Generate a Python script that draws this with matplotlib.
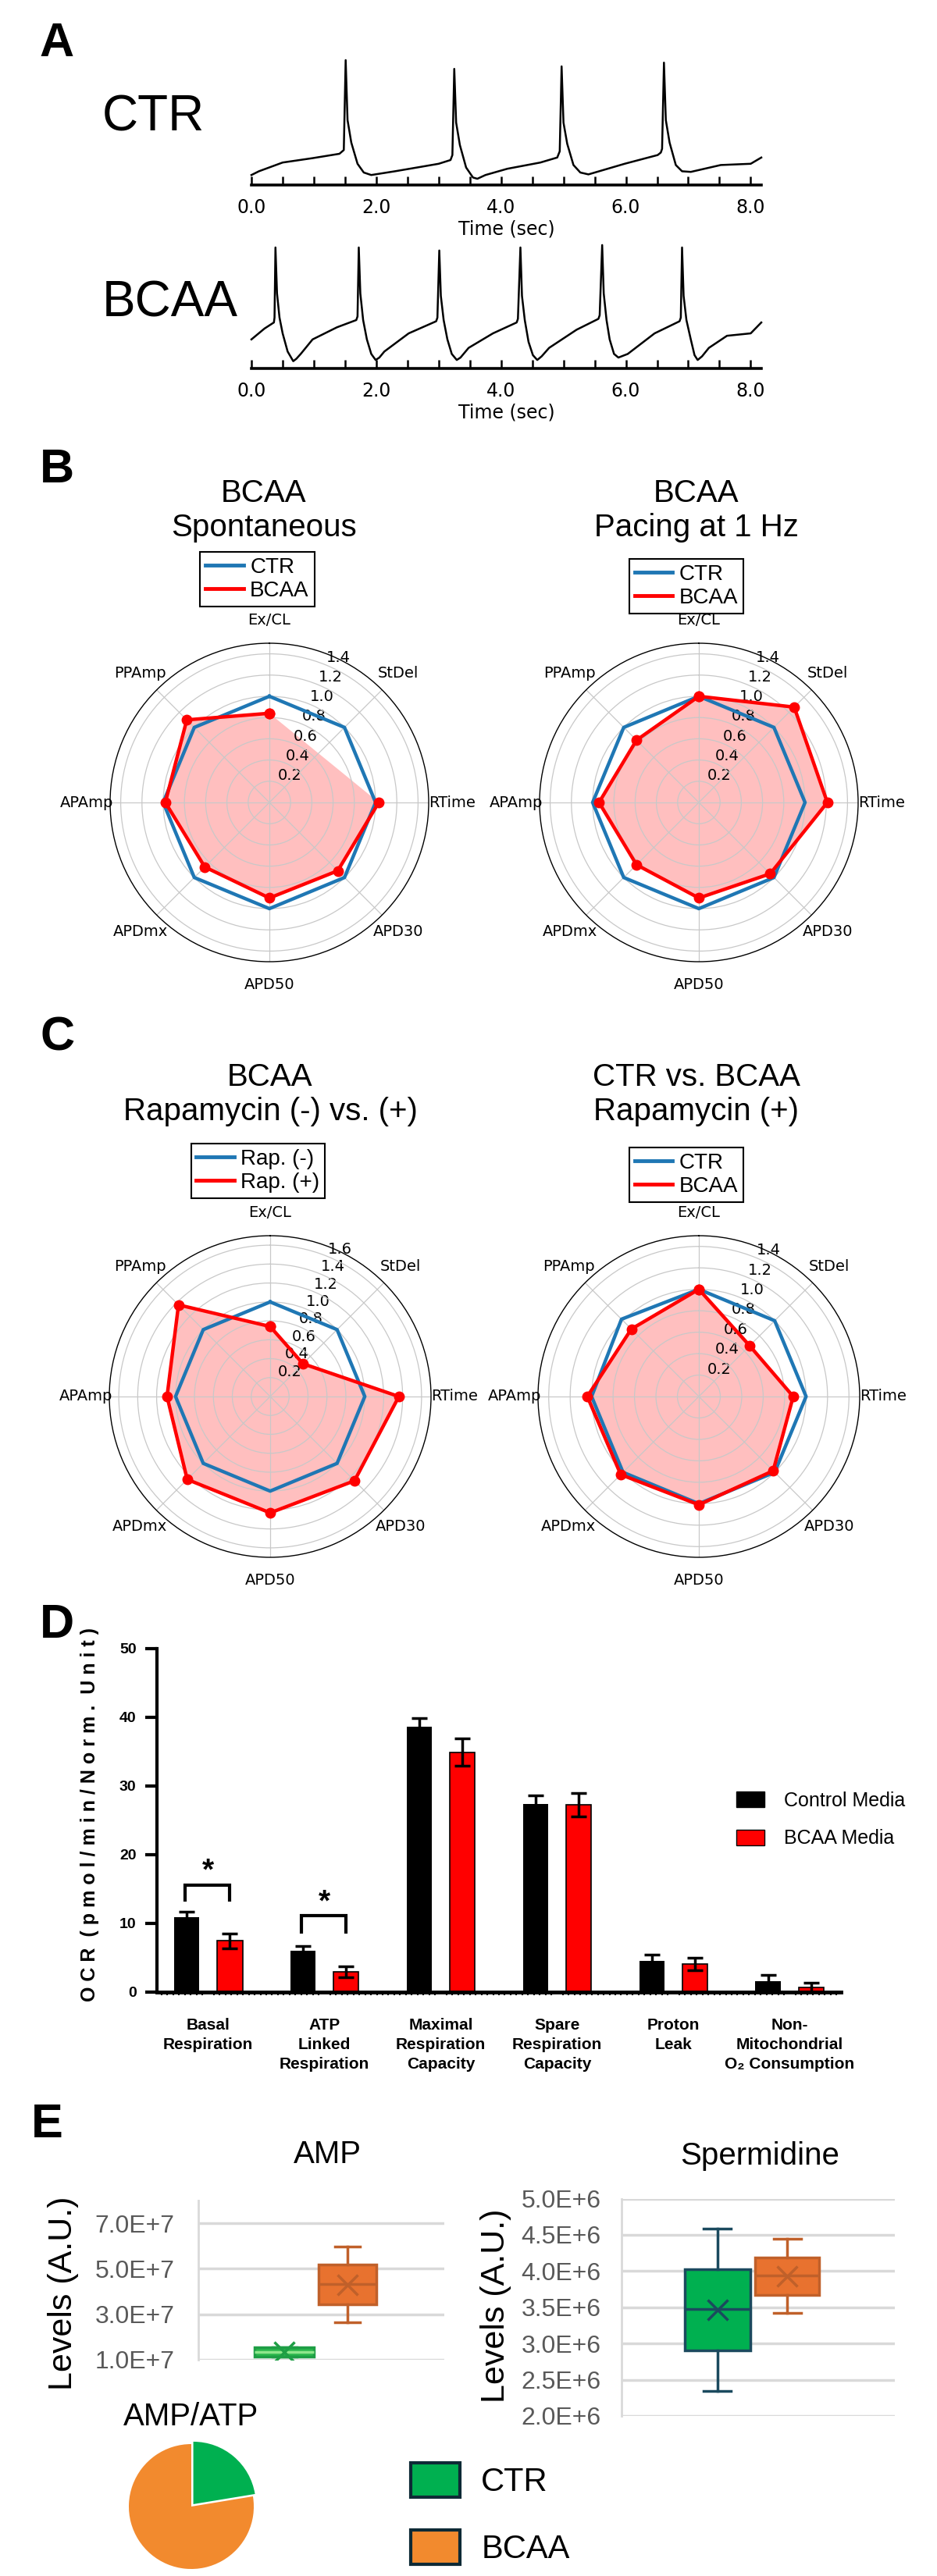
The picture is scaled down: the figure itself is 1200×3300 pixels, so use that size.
import numpy as np
import matplotlib
matplotlib.use('Agg')
import matplotlib.pyplot as plt
from matplotlib.lines import Line2D
from matplotlib.patches import Patch
from matplotlib.ticker import MultipleLocator

plt.rcParams['font.family'] = ['Liberation Sans', 'DejaVu Sans']

# ---------------- data ----------------
# A: action potential traces (time in sec, normalised amplitude)
ctr_t = [0.00, 0.12, 0.50, 0.98, 1.41,
         1.48, 1.51, 1.54, 1.60, 1.70, 1.80, 1.92,
         2.30, 2.71, 3.00, 3.19,
         3.22, 3.25, 3.28, 3.34, 3.44, 3.55, 3.62, 3.75,
         4.10, 4.63, 4.90,
         4.94, 4.97, 5.00, 5.06, 5.16, 5.27, 5.40,
         5.98, 6.51, 6.56,
         6.58, 6.61, 6.64, 6.70, 6.80, 6.90, 7.04,
         7.52, 8.00, 8.17]
ctr_v = [0.08, 0.11, 0.18, 0.215, 0.25,
         0.28, 1.00, 0.52, 0.34, 0.17, 0.10, 0.08,
         0.11, 0.145, 0.17, 0.20,
         0.24, 0.93, 0.50, 0.32, 0.14, 0.06, 0.05, 0.08,
         0.13, 0.18, 0.22,
         0.27, 0.95, 0.50, 0.33, 0.16, 0.10, 0.085,
         0.17, 0.24, 0.26,
         0.29, 0.98, 0.52, 0.34, 0.16, 0.11, 0.105,
         0.16, 0.17, 0.22]

bcaa_t = [0.00, 0.21, 0.36,
          0.37, 0.385, 0.41, 0.45, 0.50, 0.58, 0.67, 0.72, 0.79, 0.98, 1.37, 1.68,
          1.70, 1.72, 1.745, 1.79, 1.85, 1.92, 1.99, 2.05, 2.13, 2.52, 2.96,
          2.98, 3.01, 3.035, 3.08, 3.14, 3.21, 3.29, 3.35, 3.48, 3.87, 4.25,
          4.27, 4.31, 4.335, 4.38, 4.44, 4.51, 4.58, 4.65, 4.77, 5.21, 5.56,
          5.58, 5.62, 5.645, 5.69, 5.74, 5.81, 5.88, 6.03, 6.46, 6.86,
          6.88, 6.90, 6.925, 6.97, 7.04, 7.10, 7.15, 7.22, 7.33, 7.62, 8.00, 8.17]
bcaa_v = [0.24, 0.33, 0.38,
          0.42, 1.00, 0.62, 0.42, 0.29, 0.14, 0.06, 0.08, 0.12, 0.24, 0.34, 0.40,
          0.43, 1.00, 0.62, 0.40, 0.24, 0.12, 0.07, 0.09, 0.14, 0.29, 0.39,
          0.42, 0.975, 0.60, 0.40, 0.24, 0.12, 0.07, 0.09, 0.17, 0.29, 0.38,
          0.41, 1.00, 0.60, 0.40, 0.22, 0.11, 0.07, 0.10, 0.17, 0.32, 0.41,
          0.44, 1.02, 0.62, 0.40, 0.24, 0.12, 0.09, 0.12, 0.29, 0.39,
          0.42, 1.00, 0.60, 0.40, 0.24, 0.11, 0.07, 0.10, 0.17, 0.27, 0.29, 0.38]

time_ticks = [0, 2, 4, 6, 8]
time_ticklabels = ['0.0', '2.0', '4.0', '6.0', '8.0']

# B / C: radar charts
radar_cats = ['Ex/CL', 'StDel', 'RTime', 'APD30', 'APD50', 'APDmx', 'APAmp', 'PPAmp']
spont_ctr = [1.0, 1.0, 1.0, 1.0, 1.0, 1.0, 1.0, 1.0]
spont_bcaa = [0.84, np.nan, 1.03, 0.91, 0.90, 0.86, 0.98, 1.10]
pace_ctr = [1.0, 1.0, 1.0, 1.0, 1.0, 1.0, 1.0, 1.0]
pace_bcaa = [1.0, 1.27, 1.21, 0.95, 0.90, 0.83, 0.94, 0.83]
rap_minus = [1.0, 1.0, 1.0, 1.0, 1.0, 1.0, 1.0, 1.0]
rap_plus = [0.74, 0.49, 1.36, 1.26, 1.23, 1.24, 1.09, 1.37]
rapp_ctr = [1.0, 1.0, 1.0, 1.0, 1.0, 1.0, 1.0, 1.02]
rapp_bcaa = [1.0, 0.67, 0.88, 0.98, 1.01, 1.03, 1.04, 0.89]

# D: OCR bars
ocr_cats = ['Basal\nRespiration', 'ATP\nLinked\nRespiration', 'Maximal\nRespiration\nCapacity',
            'Spare\nRespiration\nCapacity', 'Proton\nLeak', 'Non-\nMitochondrial\nO\u2082 Consumption']
ocr_ctrl = [10.9, 6.0, 38.6, 27.4, 4.5, 1.6]
ocr_ctrl_err = [0.85, 0.75, 1.3, 1.2, 0.9, 0.95]
ocr_bcaa = [7.45, 3.0, 34.9, 27.3, 4.1, 0.7]
ocr_bcaa_err = [1.05, 0.8, 2.0, 1.7, 0.9, 0.7]
sig_groups = [0, 1]
sig_top = [15.6, 11.1]
sig_leg = [13.4, 8.7]
sig_star = [17.6, 13.0]

# E: metabolites
amp_ctr = dict(whislo=1.15e7, q1=1.15e7, med=1.34e7, q3=1.54e7, whishi=1.54e7, mean=1.34e7, fliers=[])
amp_bcaa = dict(whislo=2.65e7, q1=3.45e7, med=4.32e7, q3=5.17e7, whishi=5.98e7, mean=4.29e7, fliers=[])
amp_ticks = [1e7, 3e7, 5e7, 7e7]
amp_ticklabels = ['1.0E+7', '3.0E+7', '5.0E+7', '7.0E+7']
spd_ctr = dict(whislo=2.35e6, q1=2.905e6, med=3.474e6, q3=4.02e6, whishi=4.58e6, mean=3.47e6, fliers=[])
spd_bcaa = dict(whislo=3.424e6, q1=3.674e6, med=3.94e6, q3=4.19e6, whishi=4.446e6, mean=3.93e6, fliers=[])
spd_ticks = [2.0e6, 2.5e6, 3.0e6, 3.5e6, 4.0e6, 4.5e6, 5.0e6]
spd_ticklabels = ['2.0E+6', '2.5E+6', '3.0E+6', '3.5E+6', '4.0E+6', '4.5E+6', '5.0E+6']
ratio_vals = [22.4, 77.6]

# ---------------- layout helpers ----------------
W, H = 1200, 3300


def rect(l, t, w, h):
    return [l / W, 1 - (t + h) / H, w / W, h / H]


def fx(x):
    return x / W


def fy(y):
    return 1 - y / H


BLUE = '#1f77b4'
GREEN = '#00b050'
ORANGE = '#e8722f'
ORANGE_EDGE = '#c0602a'
TEAL = '#1b4a5e'

fig = plt.figure(figsize=(12, 33), dpi=100)

for letter, (x, y) in zip('ABCDE', [(73, 57), (73, 603), (74, 1330), (73, 2082), (60, 2722)]):
    fig.text(fx(x), fy(y), letter, fontsize=44, weight='bold', ha='center', va='center')


# ---------------- A ----------------
def trace(box, t, v, name, name_y):
    ax = fig.add_axes(box)
    ax.plot(t, v, color='black', lw=1.8, clip_on=False)
    ax.set_xlim(0, 8.17)
    ax.set_ylim(0, 1)
    for s in ['top', 'right', 'left']:
        ax.spines[s].set_visible(False)
    ax.spines['bottom'].set_linewidth(2.6)
    ax.set_yticks([])
    ax.set_xticks(time_ticks)
    ax.set_xticklabels(time_ticklabels, family='DejaVu Sans', fontsize=17)
    ax.xaxis.set_minor_locator(MultipleLocator(0.5))
    ax.tick_params(axis='x', which='both', direction='in', length=8, width=1.8, pad=12)
    ax.set_xlabel('Time (sec)', family='DejaVu Sans', fontsize=17, labelpad=3)
    fig.text(fx(131), fy(name_y), name, fontsize=46, ha='left', va='center')


trace(rect(322, 77, 653, 160), ctr_t, ctr_v, 'CTR', 150)
trace(rect(322, 317, 653, 155), bcaa_t, bcaa_v, 'BCAA', 388)

# ---------------- B / C ----------------
theta = np.arange(len(radar_cats)) * 2 * np.pi / len(radar_cats)


def radar(box, blue, red, names, rmax, rticks, title, title_xy, leg_xy):
    ax = fig.add_axes(box, projection='polar')
    ax.set_theta_offset(np.pi / 2)
    ax.set_theta_direction(-1)
    th = np.append(theta, theta[0])
    b = np.append(blue, blue[0])
    r = np.append(red, red[0])
    ok = ~np.isnan(r)
    ax.fill(th[ok], r[ok], color='red', alpha=0.25, lw=0, zorder=1)
    ax.plot(th, b, color=BLUE, lw=3.2, zorder=3)
    ax.plot(th, r, color='red', lw=3.2, marker='o', ms=9, zorder=4)
    ax.set_ylim(0, rmax)
    ax.set_yticks(rticks)
    ax.set_yticklabels([f'{v:.1f}' for v in rticks], family='DejaVu Sans', fontsize=14)
    ax.set_xticks(theta)
    ax.set_xticklabels(radar_cats, family='DejaVu Sans', fontsize=14)
    ax.tick_params(axis='x', pad=11)
    ax.grid(color='#c8c8c8', lw=0.9)
    ax.spines['polar'].set_linewidth(1.0)
    handles = [Line2D([], [], color=BLUE, lw=3.5), Line2D([], [], color='red', lw=3.5)]
    leg = ax.legend(handles, names, loc='center', bbox_to_anchor=(fx(leg_xy[0]), fy(leg_xy[1])),
                    bbox_transform=fig.transFigure, fontsize=20, fancybox=False, edgecolor='black',
                    framealpha=1, handlelength=1.75, handletextpad=0.3, labelspacing=0.15,
                    borderpad=0.25, borderaxespad=0)
    leg.get_frame().set_linewidth(1.5)
    fig.text(fx(title_xy[0]), fy(title_xy[1]), title, fontsize=29, ha='center', va='center',
             linespacing=1.2)


ticks14 = [0.2, 0.4, 0.6, 0.8, 1.0, 1.2, 1.4]
ticks16 = [0.2, 0.4, 0.6, 0.8, 1.0, 1.2, 1.4, 1.6]
radar(rect(141, 824, 408, 408), spont_ctr, spont_bcaa, ['CTR', 'BCAA'], 1.5, ticks14,
      'BCAA\nSpontaneous', (338, 654), (329.5, 742))
radar(rect(691, 824, 408, 408), pace_ctr, pace_bcaa, ['CTR', 'BCAA'], 1.5, ticks14,
      'BCAA\nPacing at 1 Hz', (892, 654), (879, 751))
radar(rect(140, 1583, 412, 412), rap_minus, rap_plus, ['Rap. (-)', 'Rap. (+)'], 1.7, ticks16,
      'BCAA\nRapamycin (-) vs. (+)', (346, 1402), (330.5, 1500))
radar(rect(689, 1583, 412, 412), rapp_ctr, rapp_bcaa, ['CTR', 'BCAA'], 1.5, ticks14,
      'CTR vs. BCAA\nRapamycin (+)', (892, 1402), (879, 1505))

# ---------------- D ----------------
ax = fig.add_axes(rect(201, 2112, 876, 440))
x = np.arange(len(ocr_cats))
ekw = dict(ecolor='black', lw=2.5, capsize=7, capthick=2.5)
ax.bar(x - 0.185, ocr_ctrl, 0.22, color='black', yerr=ocr_ctrl_err, error_kw=ekw, zorder=2)
ax.bar(x + 0.185, ocr_bcaa, 0.22, color='red', edgecolor='black', lw=1.2, yerr=ocr_bcaa_err,
       error_kw=ekw, zorder=2)
for g, top, leg, star in zip(sig_groups, sig_top, sig_leg, sig_star):
    ax.plot([g - 0.2, g - 0.2, g + 0.185, g + 0.185], [leg, top, top, leg], color='black', lw=3,
            solid_joinstyle='miter')
    ax.text(g, star, '*', fontsize=28, weight='bold', ha='center', va='center')
ax.set_xlim(-0.44, 5.44)
ax.set_ylim(0, 50)
for s in ['top', 'right']:
    ax.spines[s].set_visible(False)
ax.spines['left'].set_linewidth(3)
ax.spines['bottom'].set_linewidth(3.5)
ax.set_yticks([0, 10, 20, 30, 40, 50])
ax.tick_params(axis='y', length=11, width=3, labelsize=14, pad=8)
for lab in ax.get_yticklabels():
    lab.set_fontweight('bold')
ax.set_xticks(x)
ax.set_xticklabels(ocr_cats, fontsize=15, weight='bold', linespacing=1.4, va='top')
ax.tick_params(axis='x', which='major', length=0, pad=24)
ax.xaxis.set_minor_locator(MultipleLocator(0.05))
ax.tick_params(axis='x', which='minor', length=3, width=1.5)
ax.legend([Patch(facecolor='black', edgecolor='black'), Patch(facecolor='red', edgecolor='black')],
          ['Control Media', 'BCAA Media'], loc='center left',
          bbox_to_anchor=(fx(930), fy(2331)), bbox_transform=fig.transFigure, frameon=False,
          fontsize=18, handlelength=1.45, handleheight=0.9, handletextpad=1.0, labelspacing=1.0,
          borderpad=0)
fig.text(fx(115), fy(2324), 'O C R  ( p m o l / m i n / N o r m .  U n i t )', rotation=90,
         fontsize=18, weight='bold', ha='center', va='center')


# ---------------- E ----------------
def excel_box(box, stats, fills, edges, ylim, ticks, ticklabels, pad):
    ax = fig.add_axes(box)
    for st, pos, wd, fc, ec in zip(stats, [0.35, 0.606], [0.24, 0.235], fills, edges):
        ax.bxp([st], positions=[pos], widths=wd, patch_artist=True, showmeans=True,
               showfliers=False,
               boxprops=dict(facecolor=fc, edgecolor=ec, lw=2.5),
               medianprops=dict(color=ec, lw=2.5),
               whiskerprops=dict(color=ec, lw=2.5),
               capprops=dict(color=ec, lw=2.5),
               meanprops=dict(marker='x', markersize=19, markeredgecolor=ec, markeredgewidth=2.5),
               capwidths=0.1, zorder=3)
    ax.set_xlim(0, 1)
    ax.set_ylim(*ylim)
    ax.set_yticks(ticks)
    ax.set_yticklabels(ticklabels, fontsize=23, color='#595959')
    ax.tick_params(axis='y', length=0, pad=pad)
    ax.set_xticks([])
    ax.yaxis.grid(True, color='#d9d9d9', lw=2.5, zorder=0)
    ax.set_axisbelow(True)
    for s in ['top', 'right', 'bottom']:
        ax.spines[s].set_visible(False)
    ax.spines['left'].set_color('#d9d9d9')
    ax.spines['left'].set_linewidth(2)
    return ax


amp_ax = excel_box(rect(254, 2819, 315, 204), [amp_ctr, amp_bcaa], ['#2bb84c', ORANGE],
                   ['#1e9e45', ORANGE_EDGE], (1e7, 8e7), amp_ticks, amp_ticklabels, 22)
amp_ax.lines[4].set_color('#8fe58c')
spd_ax = excel_box(rect(796, 2816.5, 350, 278.5), [spd_ctr, spd_bcaa], [GREEN, ORANGE],
                   [TEAL, ORANGE_EDGE], (2e6, 5e6), spd_ticks, spd_ticklabels, 19)
fig.text(fx(419), fy(2760), 'AMP', fontsize=29, ha='center', va='center')
fig.text(fx(973), fy(2762), 'Spermidine', fontsize=29, ha='center', va='center')
fig.text(fx(81), fy(2938), 'Levels (A.U.)', fontsize=31, rotation=90, ha='center', va='center')
fig.text(fx(635), fy(2954), 'Levels (A.U.)', fontsize=31, rotation=90, ha='center', va='center')

pie_ax = fig.add_axes(rect(161, 3127, 168, 168))
pie_ax.pie(ratio_vals, colors=[GREEN, '#f28a2e'], startangle=90, counterclock=False,
           explode=[0.05, 0], wedgeprops=dict(lw=0))
pie_ax.set_xlim(-1.05, 1.05)
pie_ax.set_ylim(-1.05, 1.05)
fig.text(fx(245), fy(3096), 'AMP/ATP', fontsize=29, ha='center', va='center')

fig.legend([Patch(facecolor=GREEN, edgecolor='#0e2a36', lw=3),
            Patch(facecolor='#f28a2e', edgecolor='#0e2a36', lw=3)],
           ['CTR', 'BCAA'], loc='upper left', bbox_to_anchor=(fx(505), fy(3134)), frameon=False,
           fontsize=30, handlelength=1.52, handleheight=1.24, handletextpad=0.65,
           labelspacing=1.0, borderpad=0)

fig.savefig('out.png', dpi=100)
